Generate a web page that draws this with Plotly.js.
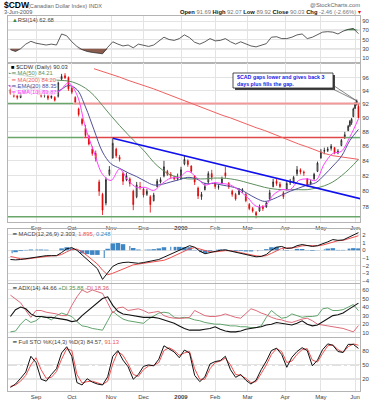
<!DOCTYPE html>
<html><head><meta charset="utf-8">
<script src="https://cdn.plot.ly/plotly-3.0.1.min.js"></script>
<style>html,body{margin:0;padding:0;background:#fff}#chart{width:377px;height:400px}</style>
</head><body><div id="chart"></div>
<script>
// ---------------- DATA ----------------
const candleDates = ['2008-08-11','2008-08-13','2008-08-15','2008-08-19','2008-08-21','2008-08-25','2008-08-27','2008-08-29',
'2008-09-03','2008-09-05','2008-09-09','2008-09-11','2008-09-15','2008-09-17','2008-09-19','2008-09-23','2008-09-25','2008-09-29',
'2008-10-01','2008-10-03','2008-10-07','2008-10-09','2008-10-13','2008-10-15','2008-10-17','2008-10-21','2008-10-23','2008-10-27','2008-10-29','2008-10-31',
'2008-11-04','2008-11-06','2008-11-10','2008-11-12','2008-11-14','2008-11-18','2008-11-20','2008-11-24','2008-11-26',
'2008-12-01','2008-12-03','2008-12-05','2008-12-09','2008-12-11','2008-12-15','2008-12-17','2008-12-19','2008-12-23','2008-12-26','2008-12-30',
'2009-01-02','2009-01-06','2009-01-08','2009-01-12','2009-01-14','2009-01-16','2009-01-21','2009-01-23','2009-01-27','2009-01-29',
'2009-02-02','2009-02-04','2009-02-06','2009-02-10','2009-02-12','2009-02-17','2009-02-19','2009-02-23','2009-02-25','2009-02-27',
'2009-03-03','2009-03-05','2009-03-09','2009-03-11','2009-03-13','2009-03-17','2009-03-19','2009-03-23','2009-03-25','2009-03-27','2009-03-31',
'2009-04-02','2009-04-06','2009-04-08','2009-04-13','2009-04-15','2009-04-17','2009-04-21','2009-04-23','2009-04-27','2009-04-29',
'2009-05-01','2009-05-05','2009-05-07','2009-05-11','2009-05-13','2009-05-15','2009-05-19','2009-05-21','2009-05-26','2009-05-27','2009-05-28','2009-05-29',
'2009-06-01','2009-06-02','2009-06-03'];
const openP = [94.2,93.6,93.3,93.0,93.6,94.1,94.3,94.6,
94.0,93.6,93.3,93.3,93.0,93.0,93.2,95.8,96.3,96.0,
94.4,93.0,91.3,89.8,88.5,87.4,85.6,85.0,81.2,79.6,78.5,82.2,
84.4,85.6,84.5,82.3,81.5,81.6,80.0,79.3,80.6,
80.3,79.6,79.3,78.8,80.6,81.2,82.0,82.6,82.2,81.8,81.6,
81.6,83.6,84.0,83.3,82.0,80.4,79.3,80.2,81.2,82.3,
81.0,80.5,81.0,82.4,81.0,80.0,79.6,79.6,80.0,79.6,
78.3,77.8,77.3,77.5,78.1,78.0,79.0,80.6,81.3,80.9,79.8,
80.3,81.1,81.2,82.3,82.8,82.5,81.6,80.9,81.6,82.6,
84.4,85.3,85.4,85.7,85.8,85.1,86.1,87.2,88.2,88.9,89.3,90.2,
91.4,92.0,91.69];
const highP = [94.4,93.9,93.5,93.8,94.3,94.6,94.9,94.8,
94.2,93.8,93.7,93.5,93.5,93.2,95.4,96.6,96.7,96.2,
94.6,93.2,91.5,90.0,89.0,87.6,86.0,85.4,81.5,79.8,81.8,83.3,
87.1,85.8,84.8,82.5,82.4,81.8,80.2,81.2,81.2,
80.5,80.3,79.5,79.8,81.6,81.8,84.0,82.8,82.5,82.0,82.3,
83.2,84.7,84.2,83.4,82.1,80.6,79.9,81.1,82.6,82.8,
81.2,80.9,81.9,83.2,81.2,80.2,79.8,80.4,80.4,79.8,
78.5,78.0,77.5,78.3,78.2,78.7,80.2,81.6,81.6,81.2,80.0,
81.3,81.6,82.0,83.3,83.0,82.7,81.7,81.5,82.4,83.9,
85.6,85.8,85.9,86.3,85.9,85.6,87.0,88.0,89.0,89.7,90.0,91.5,
92.3,92.7,92.07];
const lowP = [93.4,93.0,92.7,92.9,93.5,93.9,94.0,94.0,
93.4,93.0,93.0,92.6,92.8,92.4,93.0,95.6,95.8,94.0,
93.5,92.0,90.2,88.9,87.2,86.1,84.7,83.9,79.4,77.0,78.2,82.0,
84.3,84.4,83.9,80.8,81.3,80.6,77.6,79.1,80.2,
79.2,79.4,77.3,78.7,80.5,81.0,81.8,82.0,81.6,81.4,81.4,
81.5,83.4,83.2,82.4,80.8,79.0,78.9,80.1,81.0,81.4,
80.3,80.2,80.9,81.7,80.3,79.3,78.8,79.5,79.8,78.6,
77.6,77.3,76.6,77.4,77.5,77.9,78.9,80.5,80.7,80.4,79.0,
80.1,80.8,81.0,82.0,82.2,82.0,80.6,80.8,81.5,82.5,
84.3,84.9,85.2,85.4,84.9,84.9,86.0,87.0,88.1,88.7,89.0,90.1,
91.3,91.8,89.92];
const closeP = [93.6,93.2,93.0,93.6,94.1,94.3,94.6,94.2,
93.6,93.2,93.4,92.9,93.2,92.6,95.2,96.2,96.0,94.3,
93.8,92.3,90.5,89.2,87.5,86.3,85.0,84.3,80.0,77.6,81.5,82.8,
86.4,84.7,84.2,81.3,82.0,81.0,78.3,80.8,80.5,
79.5,80.0,78.3,79.5,81.3,81.5,83.2,82.2,82.0,81.6,81.8,
82.8,84.2,83.5,82.6,81.2,79.4,79.6,80.6,82.3,81.8,
80.6,80.6,81.6,82.0,80.6,79.6,79.0,80.1,80.2,78.8,
77.8,77.5,77.0,78.0,77.8,78.5,79.8,81.2,81.0,80.6,79.3,
81.0,81.3,81.8,82.8,82.5,82.4,80.8,81.2,82.2,83.7,
85.2,85.4,85.6,86.0,85.1,85.3,86.8,87.6,88.8,89.5,89.8,91.3,
92.0,92.49,90.03];

const maDates = ['2008-08-08','2008-08-15','2008-08-22','2008-08-29','2008-09-08','2008-09-15','2008-09-22','2008-09-29','2008-10-06','2008-10-13','2008-10-20','2008-10-27','2008-11-03','2008-11-10','2008-11-17','2008-11-24','2008-12-02','2008-12-09','2008-12-16','2008-12-23','2008-12-31','2009-01-08','2009-01-15','2009-01-23','2009-01-30','2009-02-06','2009-02-13','2009-02-23','2009-03-02','2009-03-09','2009-03-16','2009-03-23','2009-03-30','2009-04-06','2009-04-14','2009-04-21','2009-04-28','2009-05-05','2009-05-12','2009-05-19','2009-05-27','2009-06-03'];
const ma50 = [96.7,96.5,96.3,96.1,95.9,95.7,95.6,95.5,95.1,94.4,93.3,91.8,90.3,88.9,87.6,86.4,85.2,83.8,82.8,82.1,81.8,81.6,81.6,81.6,81.7,81.7,81.6,81.4,81.1,80.8,80.5,80.3,80.2,80.2,80.2,80.2,80.4,80.7,81.2,82.0,83.0,84.21];
const ma200 = [null,null,null,null,null,null,null,null,null,null,97.4,97.0,96.5,96.1,95.6,95.2,94.7,94.3,93.8,93.3,92.8,92.3,91.9,91.4,90.9,90.4,90.0,89.5,89.0,88.6,88.2,87.7,87.3,86.8,86.3,85.9,85.4,85.0,84.7,84.5,84.3,84.2];
const ema20 = [94.8,94.5,94.2,94.3,94.1,93.8,94.1,94.8,94.2,91.6,88.3,85.2,83.6,83.0,82.4,81.9,81.3,80.8,80.9,81.2,81.5,81.8,81.6,81.0,81.0,80.8,80.6,80.3,79.7,79.1,78.7,79.0,79.5,80.0,80.4,80.8,81.1,82.1,83.3,84.6,86.8,88.35];
const ema10 = [94.8,94.0,93.8,94.2,93.8,93.4,94.0,95.2,93.4,88.6,85.2,82.2,81.4,82.9,81.4,80.5,80.5,80.1,81.0,81.7,81.8,82.6,81.8,80.8,81.1,81.0,80.8,80.1,79.2,78.1,78.1,79.5,80.2,80.2,81.4,81.6,81.4,83.6,85.0,85.3,87.3,89.87];

const oscDates = ['2008-08-11','2008-08-14','2008-08-19','2008-08-22','2008-08-27','2008-09-02','2008-09-05','2008-09-10','2008-09-15','2008-09-18','2008-09-23','2008-09-26','2008-10-01','2008-10-06','2008-10-09','2008-10-14','2008-10-17','2008-10-22','2008-10-27','2008-10-30','2008-11-04','2008-11-07','2008-11-12','2008-11-17','2008-11-20','2008-11-25','2008-12-01','2008-12-04','2008-12-09','2008-12-12','2008-12-17','2008-12-22','2008-12-26','2008-12-31','2009-01-06','2009-01-09','2009-01-14','2009-01-20','2009-01-23','2009-01-28','2009-02-02','2009-02-05','2009-02-10','2009-02-13','2009-02-19','2009-02-24','2009-02-27','2009-03-04','2009-03-09','2009-03-12','2009-03-17','2009-03-20','2009-03-25','2009-03-30','2009-04-02','2009-04-07','2009-04-13','2009-04-16','2009-04-21','2009-04-24','2009-04-29','2009-05-04','2009-05-07','2009-05-12','2009-05-15','2009-05-20','2009-05-26','2009-05-29','2009-06-03'];
const rsi = [28,24,30,40,46, 42,40,38,40,38,62,58, 45,35,28,24,22,20,19,33, 45,40,36,38,32,40, 37,35,38,46,55,50,48,52, 60,54,44,40,45,52, 47,48,52,45,40,45,40, 36,34,38,41,55,56,52, 52,55,60,62,52,55,60, 66,67,66,62,68,72,74, 62.68];
const macd = [-1.2,-1.25,-1.2,-1.1,-0.95, -0.85,-0.75,-0.7,-0.7,-0.7,-0.3,0.2, 0.35,0.0,-0.6,-1.2,-1.8,-2.4,-3.8,-3.0, -2.1,-1.75,-1.6,-1.55,-1.6,-1.7, -1.6,-1.5,-1.35,-1.2,-0.9,-0.6,-0.3,0.0, 0.3,0.6,0.4,-0.1,-0.45,-0.3, -0.1,0.0,0.05,-0.1,-0.25,-0.4,-0.6, -0.75,-0.85,-0.8,-0.55,0.0,0.4,0.5, 0.25,0.3,0.6,0.75,0.65,0.5,0.6, 0.8,1.1,1.4,1.3,1.35,1.7,2.0, 2.303];
const macdSignal = [-0.8,-1.0,-1.1,-1.15,-1.05, -0.95,-0.85,-0.78,-0.72,-0.7,-0.55,-0.2, 0.1,0.15,-0.2,-0.7,-1.2,-1.8,-2.6,-3.2, -3.0,-2.7,-2.4,-2.1,-1.9,-1.8, -1.7,-1.6,-1.5,-1.45,-1.3,-1.05,-0.75,-0.45, -0.1,0.2,0.35,0.15,-0.1,-0.2, -0.2,-0.1,-0.05,-0.05,-0.15,-0.3,-0.45, -0.6,-0.72,-0.78,-0.7,-0.4,-0.05,0.25, 0.3,0.3,0.42,0.58,0.62,0.58,0.58, 0.68,0.88,1.12,1.25,1.3,1.48,1.72, 1.895];
const macdHist = [-0.4,-0.25,-0.1,0.05,0.1, 0.1,0.1,0.08,0.02,0.0,0.25,0.4, 0.25,-0.15,-0.4,-0.5,-0.6,-0.6,-1.0,0.2, 0.9,0.95,0.8,0.55,0.3,0.1, 0.1,0.1,0.15,0.25,0.4,0.45,0.45,0.45, 0.4,0.4,0.05,-0.25,-0.35,-0.1, 0.1,0.1,0.1,-0.05,-0.1,-0.1,-0.15, -0.15,-0.13,-0.02,0.15,0.4,0.45,0.25, -0.05,0.0,0.18,0.17,0.03,-0.08,0.02, 0.12,0.22,0.28,0.05,0.05,0.22,0.28, 0.248];
const adx = [29,37,40,38,32, 29,29,28,28,27,26,25, 23,24,30,35,40,45,50,52, 42,35,32,31,30,29, 28,28,28,27,25,23,21,18, 15,13,13,13,14,15, 17,14,12,11,11,12,14, 15,16,17,19,20,22,21, 20,19,21,24,20,18,19, 23,27,30,31,33,37,41, 44.66];
const plusDI = [11,12,20,26,22, 24,29,28,25,30,33,31, 29,23,18,17,15,14,13,24, 35,30,26,24,23,22, 21,26,30,33,34,33,28,27, 28,27,25,24,22,21, 20,20,19,18,18,17,17, 16,16,18,28,36,31,27, 28,32,30,28,29,29,30, 38,39,36,36,37,40,43, 35.88];
const minusDI = [54,49,45,36,28, 36,36,34,33,32,30,30, 42,52,60,57,60,58,56,45, 33,39,40,36,37,38, 36,33,34,35,30,28,27,27, 27,28,36,33,30,29, 29,30,32,30,28,27,33, 38,36,33,31,28,26,25, 23,22,24,26,27,24,20, 19,18,17,16,15,13,11, 18.36];
const stoK = [3,10,22,35,68, 55,20,16,30,42,75,88, 68,13,8,21,14,10,8,25, 68,80,60,46,20,30, 47,50,48,62,90,84,77,65, 81,75,28,15,25,52, 57,59,68,40,24,30,18, 10,18,40,58,80,85,72, 45,66,78,86,80,48,60, 82,94,91,78,76,93,93, 84.57];
const stoD = [5,8,16,28,50, 65,40,22,24,36,62,84, 80,30,12,15,16,12,9,16, 52,78,70,52,30,26, 40,48,49,55,80,86,80,70, 75,78,42,20,20,42, 55,58,64,50,30,28,22, 13,15,32,50,72,84,78, 55,58,72,82,84,60,56, 74,90,92,82,76,88,94, 91.13];

const monthTicks = ['2008-09-02','2008-10-01','2008-11-03','2008-12-01','2009-01-02','2009-02-02','2009-03-02','2009-04-01','2009-05-01','2009-06-01'];
const monthLabels = ['Sep','Oct','Nov','Dec','<b>2009</b>','Feb','Mar','Apr','May','Jun'];
const holidays = ['2008-09-01','2008-11-27','2008-12-25','2009-01-01','2009-01-19','2009-02-16','2009-04-10','2009-05-25'];
const priceTicks = [78,80,82,84,86,88,90,92,94,96];

// user price lines (date spans and levels)
const levelSpans = [['2008-08-07','2008-10-02'],['2008-10-02','2009-06-05'],['2008-08-07','2008-10-10'],['2008-10-10','2009-05-21'],['2009-05-21','2009-06-05'],['2008-08-07','2009-06-05']];
const levelValues = [92.1,92.1,87.2,87.2,87.2,76.8];
const trendDates = ['2008-11-04','2009-06-05'];
const trendValues = [87.1,79.0];
const calloutDates = [['2009-05-11','2009-06-02'],['2009-05-13','2009-06-02']];
const calloutValues = [[94.4,92.5],[94.7,92.5]];

// ---------------- LAYOUT / TRACES ----------------
const F = 'Liberation Sans, Arial, sans-serif';
const W = 377, H = 400;
const xd = [8/W, 360/W];
const xRange = ['2008-08-07 14:00','2009-06-03 22:00'];
const breaks = [{bounds:['sat','mon']},{values:holidays}];
const GRID = '#e3e3e3', FRAME = '#b4b4b4';
const py = (px) => 1 - px/H;

function xa(anchor, labels){
  return {domain:xd, anchor, type:'date', range:xRange, rangebreaks:breaks, tickmode:'array',
    tickvals:monthTicks, ticktext:monthLabels, showticklabels:labels, ticks:'', showgrid:true,
    gridcolor:GRID, showline:true, mirror:true, linecolor:FRAME, linewidth:1, zeroline:false,
    tickfont:{family:F,size:6,color:'#444'}, fixedrange:true, rangeslider:{visible:false}};
}
function ya(anchor, d0, d1, range, tickvals, extra){
  return Object.assign({anchor, domain:[py(d1), py(d0)], range, tickmode:'array', tickvals, side:'right',
    ticks:'', showgrid:true, gridcolor:GRID, showline:true, mirror:true, linecolor:FRAME, zeroline:false,
    tickfont:{family:F,size:6,color:'#444'}, fixedrange:true}, extra||{});
}

const traces = [];
// RSI
const c30 = oscDates.map(()=>30), c70 = oscDates.map(()=>70);
traces.push({x:oscDates, y:c30, xaxis:'x', yaxis:'y', mode:'lines', line:{width:0}, hoverinfo:'skip'});
traces.push({x:oscDates, y:rsi.map(v=>Math.min(v,30)), xaxis:'x', yaxis:'y', mode:'lines', line:{width:0}, fill:'tonexty', fillcolor:'rgba(125,75,60,0.9)', hoverinfo:'skip'});
traces.push({x:oscDates, y:c70, xaxis:'x', yaxis:'y', mode:'lines', line:{width:0}, hoverinfo:'skip'});
traces.push({x:oscDates, y:rsi.map(v=>Math.max(v,70)), xaxis:'x', yaxis:'y', mode:'lines', line:{width:0}, fill:'tonexty', fillcolor:'rgba(70,140,80,0.95)', hoverinfo:'skip'});
traces.push({x:oscDates, y:rsi, xaxis:'x', yaxis:'y', mode:'lines', line:{color:'#333',width:0.8}, hoverinfo:'skip'});

// price panel lines
const lvlColors = ['#6aa56a','#f29a9a','#6aa56a','#e04848','#6aa56a','#6aa56a'];
levelSpans.forEach((s,i)=>traces.push({x:s, y:[levelValues[i],levelValues[i]], xaxis:'x2', yaxis:'y2', mode:'lines', line:{color:lvlColors[i], width:i===1?2:1.5}, hoverinfo:'skip'}));
traces.push({x:maDates, y:ma200, xaxis:'x2', yaxis:'y2', mode:'lines', line:{color:'#f06060',width:1}, connectgaps:false, hoverinfo:'skip'});
traces.push({x:maDates, y:ma50, xaxis:'x2', yaxis:'y2', mode:'lines', line:{color:'#5e8f5e',width:1, shape:'spline'}, hoverinfo:'skip'});
traces.push({x:maDates, y:ema20, xaxis:'x2', yaxis:'y2', mode:'lines', line:{color:'#50509a',width:1, shape:'spline'}, hoverinfo:'skip'});
traces.push({x:maDates, y:ema10, xaxis:'x2', yaxis:'y2', mode:'lines', line:{color:'#ff40ff',width:1, shape:'spline'}, hoverinfo:'skip'});
traces.push({x:trendDates, y:trendValues, xaxis:'x2', yaxis:'y2', mode:'lines', line:{color:'#1010ee',width:1.6}, hoverinfo:'skip'});
traces.push({type:'candlestick', x:candleDates, open:openP, high:highP, low:lowP, close:closeP, xaxis:'x2', yaxis:'y2',
  increasing:{line:{color:'#111',width:0.8}, fillcolor:'#ffffff'}, decreasing:{line:{color:'#e00000',width:0.8}, fillcolor:'#e00000'},
  whiskerwidth:0, hoverinfo:'skip'});
calloutDates.forEach((d,i)=>traces.push({x:d, y:calloutValues[i], xaxis:'x2', yaxis:'y2', mode:'lines', line:{color:'#555',width:0.7}, hoverinfo:'skip'}));

// MACD
traces.push({type:'bar', x:oscDates, y:macdHist, xaxis:'x3', yaxis:'y3', marker:{color:'#3f86c4', line:{width:0}}, hoverinfo:'skip'});
traces.push({x:oscDates, y:macdSignal, xaxis:'x3', yaxis:'y3', mode:'lines', line:{color:'#f05050',width:1}, hoverinfo:'skip'});
traces.push({x:oscDates, y:macd, xaxis:'x3', yaxis:'y3', mode:'lines', line:{color:'#111',width:1}, hoverinfo:'skip'});
// ADX
traces.push({x:oscDates, y:plusDI, xaxis:'x4', yaxis:'y4', mode:'lines', line:{color:'#4f9a5c',width:0.9}, hoverinfo:'skip'});
traces.push({x:oscDates, y:minusDI, xaxis:'x4', yaxis:'y4', mode:'lines', line:{color:'#d85a6a',width:0.9}, hoverinfo:'skip'});
traces.push({x:oscDates, y:adx, xaxis:'x4', yaxis:'y4', mode:'lines', line:{color:'#111',width:1.1}, hoverinfo:'skip'});
// STO
traces.push({x:oscDates, y:stoD, xaxis:'x5', yaxis:'y5', mode:'lines', line:{color:'#f05050',width:1}, hoverinfo:'skip'});
traces.push({x:oscDates, y:stoK, xaxis:'x5', yaxis:'y5', mode:'lines', line:{color:'#111',width:1}, hoverinfo:'skip'});

const A = (x,y,text,o) => Object.assign({xref:'paper', yref:'paper', x:x/W, y:py(y), text, showarrow:false,
  xanchor:'left', yanchor:'middle', font:{family:F,size:6,color:'#333'}}, o||{});

const annotations = [
  A(2,5,'<b>$CDW</b>',{font:{family:F,size:8.5,color:'#000'}}),
  A(26,5.5,'(Canadian Dollar Index) INDX',{font:{family:F,size:5.6,color:'#666'}}),
  A(362,5,'@StockCharts.com',{xanchor:'right',font:{family:F,size:5.8,color:'#666'}}),
  A(2,11.5,'3-Jun-2009',{font:{family:F,size:5.6,color:'#555'}}),
  A(363,11.5,'<b>Open</b> <span style="color:#777">91.69</span> <b>High</b> <span style="color:#777">92.07</span> <b>Low</b> <span style="color:#777">89.92</span> <b>Close</b> <span style="color:#777">90.03</span> <b>Chg</b> <span style="color:#777">-2.46 (-2.66%)</span> <span style="color:#e00">▾</span>',{xanchor:'right',font:{family:F,size:5.8,color:'#111'}}),
  A(10,20,'<span style="color:#3a8a3a">▲</span>RSI(14) 62.68',{font:{family:F,size:5.8,color:'#444'}}),
  A(10,66.5,'<span style="color:#000">■</span> $CDW (Daily) 90.03',{bgcolor:'rgba(255,255,255,0.75)',borderpad:0,font:{family:F,size:5.8,color:'#333'}}),
  A(10,73,'<span style="color:#5e8f5e">━</span> MA(50) 84.21',{bgcolor:'rgba(255,255,255,0.75)',borderpad:0,font:{family:F,size:5.8,color:'#5e8f5e'}}),
  A(10,79.5,'<span style="color:#f06060">━</span> MA(200) 84.20',{bgcolor:'rgba(255,255,255,0.75)',borderpad:0,font:{family:F,size:5.8,color:'#f06060'}}),
  A(10,86,'<span style="color:#50509a">━</span> EMA(20) 88.35',{bgcolor:'rgba(255,255,255,0.75)',borderpad:0,font:{family:F,size:5.8,color:'#50509a'}}),
  A(10,92.5,'<span style="color:#ff40ff">━</span> EMA(10) 89.87',{bgcolor:'rgba(255,255,255,0.75)',borderpad:0,font:{family:F,size:5.8,color:'#ff40ff'}}),
  A(235,80.5,'<b>$CAD gaps lower and gives back 3</b><br><b>days plus fills the gap.</b>',{align:'left',font:{family:F,size:5.3,color:'#2020e8'}}),
  A(10,233.5,'<span style="color:#111">━</span> MACD(12,26,9) 2.303, <span style="color:#f05050">1.895</span>, <span style="color:#3f86c4">0.248</span>',{font:{family:F,size:5.8,color:'#444'}}),
  A(10,288,'<span style="color:#111">━</span> ADX(14) 44.66 <span style="color:#4f9a5c">+DI 35.88</span> <span style="color:#d85a6a">-DI 18.36</span>',{font:{family:F,size:5.8,color:'#444'}}),
  A(10,341.5,'<span style="color:#111">━</span> Full STO %K(14,3) %D(3) 84.57, <span style="color:#f05050">91.13</span>',{font:{family:F,size:5.8,color:'#444'}})
];

const hl = (yref, v, color, dash) => ({type:'line', xref:'x domain', yref, x0:0, x1:1, y0:v, y1:v, line:{color, width:1, dash:dash||'solid'}, layer:'below'});
const shapes = [
  hl('y',70,'#9a9a9a'), hl('y',30,'#9a9a9a'), hl('y',50,'#b0b0b0','dashdot'),
  hl('y5',80,'#9a9a9a'), hl('y5',20,'#9a9a9a'), hl('y5',50,'#b0b0b0','dashdot'),
  {type:'rect', xref:'paper', yref:'paper', x0:235/W, x1:335/W, y0:py(90), y1:py(75), fillcolor:'#444', line:{width:0}, layer:'above'},
  {type:'rect', xref:'paper', yref:'paper', x0:233/W, x1:333/W, y0:py(88), y1:py(73), fillcolor:'#fff', line:{color:'#222',width:0.8}, layer:'above'}
];

const layout = {
  width:W, height:H, margin:{l:0,r:0,t:0,b:0}, paper_bgcolor:'#fff', plot_bgcolor:'#fff', showlegend:false,
  bargap:0.12, font:{family:F,size:6,color:'#444'},
  xaxis:xa('y',false), xaxis2:xa('y2',true), xaxis3:xa('y3',false), xaxis4:xa('y4',false), xaxis5:xa('y5',true),
  yaxis: ya('x',16,63,[-1,101],[10,30,50,70,90]),
  yaxis2: ya('x2',63,222,[Math.log10(76.14),Math.log10(98.3)],priceTicks,{type:'log', ticktext:priceTicks.map(String)}),
  yaxis3: ya('x3',229,283,[-4.27,2.78],[-4,-3,-2,-1,0,1,2]),
  yaxis4: ya('x4',284,337,[5,67],[10,20,30,40,50,60]),
  yaxis5: ya('x5',338,391,[-4.6,106.3],[20,50,80]),
  annotations, shapes
};
Plotly.newPlot('chart', traces, layout, {displayModeBar:false, staticPlot:true});
</script></body></html>
